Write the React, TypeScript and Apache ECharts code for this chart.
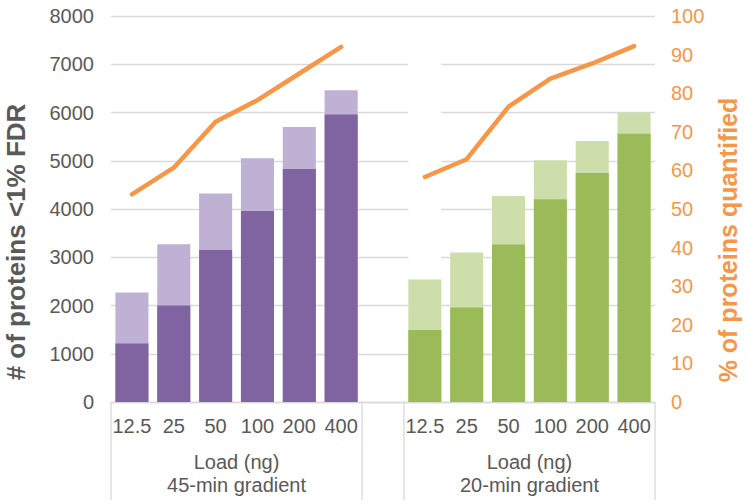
import React, { useEffect, useRef } from "react";
import * as echarts from "echarts";

const loads = ["12.5", "25", "50", "100", "200", "400"];
const identified45 = [2270, 3270, 4320, 5050, 5700, 6460];
const quantified45 = [1210, 2000, 3150, 3960, 4830, 5960];
const pct45 = [53.8, 60.7, 72.6, 78.2, 85.1, 92.0];
const identified20 = [2540, 3100, 4270, 5010, 5410, 6000];
const quantified20 = [1490, 1960, 3265, 4200, 4745, 5560];
const pct20 = [58.3, 62.9, 76.5, 83.8, 87.7, 92.2];
const leftTicks = { min: 0, max: 8000, interval: 1000 };
const rightTicks = { min: 0, max: 100, interval: 10 };
const groupLabels = ["Load (ng)\n45-min gradient", "Load (ng)\n20-min gradient"];
const leftTitle = "# of proteins <1% FDR";
const rightTitle = "% of proteins quantified";
const maskValue = 7900;

const FONT = "Liberation Sans, Arial, sans-serif";
const GRAY = "#595959";
const ORANGE = "#f79646";
const GRID = "#d9d9d9";

export default function App() {
  const ref = useRef<HTMLDivElement>(null);
  useEffect(() => {
    if (!ref.current) return;
    const chart = echarts.init(ref.current, undefined, { renderer: "svg" });
    const cats = [
      ...loads.map((l) => "45|" + l),
      "gap|",
      ...loads.map((l) => "20|" + l),
    ];
    const n = loads.length;
    const dash = (k: number) => Array(k).fill("-");
    const first = (arr: any[]) => [...arr, ...dash(n + 1)];
    const second = (arr: any[]) => [...dash(n + 1), ...arr];
    const barCommon = {
      type: "bar",
      barWidth: "79%",
      barGap: "-100%",
      silent: true,
    };
    const option: any = {
      animation: false,
      textStyle: { fontFamily: FONT },
      grid: { left: 111, right: 95, top: 16, bottom: 102 },
      xAxis: {
        type: "category",
        data: cats,
        axisLine: { lineStyle: { color: GRID, width: 1.3 } },
        axisTick: { show: false },
        axisLabel: {
          formatter: (v: string) => v.split("|")[1],
          color: GRAY,
          fontSize: 20,
          fontFamily: FONT,
          margin: 14,
          interval: 0,
        },
      },
      yAxis: [
        {
          type: "value",
          ...leftTicks,
          axisLine: { show: false },
          axisTick: { show: false },
          axisLabel: {
            color: GRAY,
            fontSize: 20,
            fontFamily: FONT,
            margin: 17,
            formatter: (v: number) => String(v),
          },
          splitLine: { lineStyle: { color: GRID, width: 1.3 } },
        },
        {
          type: "value",
          ...rightTicks,
          position: "right",
          axisLine: { show: false },
          axisTick: { show: false },
          axisLabel: {
            color: ORANGE,
            fontSize: 20,
            fontFamily: FONT,
            margin: 16,
            formatter: (v: number) => String(v),
          },
          splitLine: { show: false },
        },
      ],
      series: [
        {
          ...barCommon,
          name: "mask",
          stack: "mask",
          data: [...dash(n + 1), maskValue, ...dash(n - 1)],
          itemStyle: { color: "#ffffff" },
        },
        {
          ...barCommon,
          name: "identified45",
          stack: "total",
          data: first(identified45),
          itemStyle: { color: "#bfb1d4" },
        },
        {
          ...barCommon,
          name: "identified20",
          stack: "total",
          data: second(identified20),
          itemStyle: { color: "#cddeab" },
        },
        {
          ...barCommon,
          name: "quantified45",
          stack: "quant",
          data: first(quantified45),
          itemStyle: { color: "#8064a2" },
        },
        {
          ...barCommon,
          name: "quantified20",
          stack: "quant",
          data: second(quantified20),
          itemStyle: { color: "#9bbb59" },
        },
        {
          type: "line",
          name: "pct45",
          yAxisIndex: 1,
          data: first(pct45),
          showSymbol: false,
          symbol: "none",
          lineStyle: { color: ORANGE, width: 4.5, cap: "round", join: "round" },
          z: 5,
        },
        {
          type: "line",
          name: "pct20",
          yAxisIndex: 1,
          data: second(pct20),
          showSymbol: false,
          symbol: "none",
          lineStyle: { color: ORANGE, width: 4.5, cap: "round", join: "round" },
          z: 5,
        },
      ],
    };
    chart.setOption(option);

    // decorations computed from the axis scale
    const px = (i: number) => chart.convertToPixel({ xAxisIndex: 0 }, cats[i]) as number;
    const half = (px(1) - px(0)) / 2;
    const y0 = chart.convertToPixel({ yAxisIndex: 0 }, 0) as number;
    const groups = [
      [px(0) - half, px(n - 1) + half],
      [px(n + 1) - half, px(2 * n) + half],
    ];
    const bottomY = 500;
    const graphic: any[] = [];
    groups.forEach((g, gi) => {
      g.forEach((x) => {
        graphic.push({
          type: "line",
          shape: { x1: x, y1: y0, x2: x, y2: bottomY },
          style: { stroke: GRID, lineWidth: 1.3 },
          silent: true,
        });
      });
      graphic.push({
        type: "text",
        x: (g[0] + g[1]) / 2,
        y: 473.5,
        style: {
          text: groupLabels[gi],
          fill: GRAY,
          font: `20px ${FONT}`,
          lineHeight: 23,
          align: "center",
          verticalAlign: "middle",
        },
        silent: true,
      });
    });
    graphic.push({
      type: "text",
      x: 16,
      y: 242,
      rotation: Math.PI / 2,
      style: {
        text: leftTitle,
        fill: GRAY,
        font: `bold 26px ${FONT}`,
        align: "center",
        verticalAlign: "middle",
      },
      silent: true,
    });
    graphic.push({
      type: "text",
      x: 728,
      y: 240,
      rotation: Math.PI / 2,
      style: {
        text: rightTitle,
        fill: ORANGE,
        font: `bold 25px ${FONT}`,
        align: "center",
        verticalAlign: "middle",
      },
      silent: true,
    });
    chart.setOption({ graphic });

    return () => chart.dispose();
  }, []);
  return (
    <div
      ref={ref}
      style={{ position: "absolute", left: 0, top: 0, width: 750, height: 504 }}
    />
  );
}
